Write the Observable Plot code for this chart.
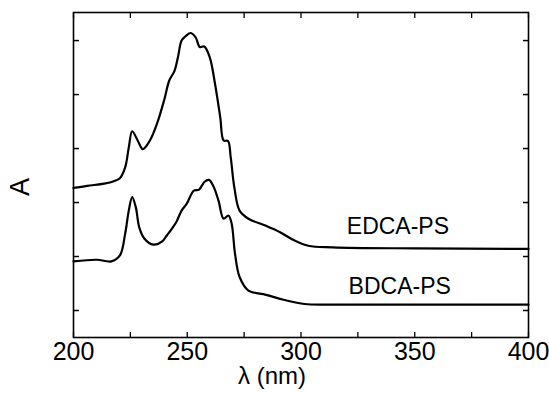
<!DOCTYPE html>
<html>
<head>
<meta charset="utf-8">
<script src="https://cdn.jsdelivr.net/npm/d3@7"></script>
<script src="https://cdn.jsdelivr.net/npm/@observablehq/plot@0.6"></script>
<style>
  body { margin: 0; background: #fff; }
  #chart svg { display: block; }
</style>
</head>
<body>
<div id="chart"></div>
<script>
// UV absorption spectra (offset, arbitrary absorbance units)
const edcaWavelength = [200, 206, 213.5, 218, 220.4, 222.7, 224.3, 225.8, 228.2, 230.5, 233.6, 236.7, 239.8, 242.1, 244.4, 245.9, 247.5, 249, 251.4, 253.7, 255.5, 257.5, 259.9, 262.2, 264.5, 266, 267.9, 269.1, 270.7, 273, 276.9, 284.6, 290.8, 297, 303.2, 314, 350, 400];
const edcaAbsorbance = [2.27, 2.31, 2.35, 2.40, 2.45, 2.65, 3.02, 3.32, 3.15, 2.99, 3.15, 3.46, 3.89, 4.26, 4.44, 4.69, 5.00, 5.07, 5.14, 5.06, 4.88, 4.89, 4.69, 4.20, 3.58, 3.15, 3.14, 2.84, 2.28, 1.85, 1.70, 1.57, 1.45, 1.30, 1.20, 1.17, 1.15, 1.14];

const bdcaWavelength = [200, 210.3, 216.6, 220.4, 222.7, 224.3, 225.8, 227.4, 228.9, 231.2, 235.1, 239, 241, 242.8, 245.2, 247.5, 249.8, 252.9, 255.2, 257.5, 259.5, 261.4, 263.7, 266, 268.1, 269.5, 271, 273, 276.9, 284.6, 292.3, 301.6, 314, 350, 400];
const bdcaAbsorbance = [0.91, 0.94, 0.91, 1.02, 1.42, 1.85, 2.10, 1.91, 1.54, 1.33, 1.22, 1.28, 1.39, 1.49, 1.64, 1.85, 1.98, 2.22, 2.24, 2.38, 2.42, 2.31, 2.04, 1.70, 1.76, 1.61, 1.05, 0.62, 0.37, 0.29, 0.20, 0.12, 0.11, 0.11, 0.11];

// Curve labels
const seriesNames = ["EDCA-PS", "BDCA-PS"];
const labelWavelength = [342.6, 343.4];
const labelAbsorbance = [1.56, 0.44];

// Axis ticks
const xTickLabels = [200, 250, 300, 350, 400];
const xTickMarks = [200, 225, 250, 275, 300, 325, 350, 375, 400];
const yTickMarks = [0, 1, 2, 3, 4, 5];

const spectra = [
  ...edcaWavelength.map((w, i) => ({series: seriesNames[0], wavelength: w, absorbance: edcaAbsorbance[i]})),
  ...bdcaWavelength.map((w, i) => ({series: seriesNames[1], wavelength: w, absorbance: bdcaAbsorbance[i]}))
];
const labels = seriesNames.map((name, i) => ({name, wavelength: labelWavelength[i], absorbance: labelAbsorbance[i]}));

const font = "'Liberation Sans', Arial, sans-serif";
const noText = () => "";

const chart = Plot.plot({
  width: 549,
  height: 393,
  marginLeft: 73,
  marginRight: 21,
  marginTop: 12,
  marginBottom: 56,
  style: {fontFamily: font, background: "white", color: "black", overflow: "visible"},
  x: {domain: [200, 400]},
  y: {domain: [-0.5, 5.52]},
  marks: [
    Plot.frame({stroke: "black", strokeWidth: 1.6}),
    // inward ticks on all four sides
    Plot.axisX(xTickMarks, {anchor: "bottom", tickSize: -5, tickFormat: noText, label: null, strokeWidth: 1.3}),
    Plot.axisX(xTickMarks, {anchor: "top", tickSize: -5, tickFormat: noText, label: null, strokeWidth: 1.3}),
    Plot.axisY(yTickMarks, {anchor: "left", tickSize: -6, tickFormat: noText, label: null, strokeWidth: 1.5}),
    Plot.axisY(yTickMarks, {anchor: "right", tickSize: -6, tickFormat: noText, label: null, strokeWidth: 1.5}),
    // numeric labels below the frame
    Plot.axisX(xTickLabels, {anchor: "bottom", tickSize: 0, tickPadding: 5, fontSize: 25, label: null, tickFormat: d => String(d), letterSpacing: "-1.8px"}),
    Plot.text(["λ (nm)"], {frameAnchor: "bottom", dx: -29, dy: 46, fontSize: 24, fill: "black", letterSpacing: "-0.5px"}),
    Plot.text(["A"], {frameAnchor: "left", dx: -53, dy: 21, rotate: -90, fontSize: 27, fill: "black"}),
    Plot.line(spectra, {x: "wavelength", y: "absorbance", z: "series", stroke: "black", strokeWidth: 2.2, curve: "catmull-rom"}),
    Plot.text(labels, {x: "wavelength", y: "absorbance", text: "name", fontSize: 23, fill: "black", letterSpacing: "-0.6px"})
  ]
});

document.getElementById("chart").appendChild(chart);
</script>
</body>
</html>
